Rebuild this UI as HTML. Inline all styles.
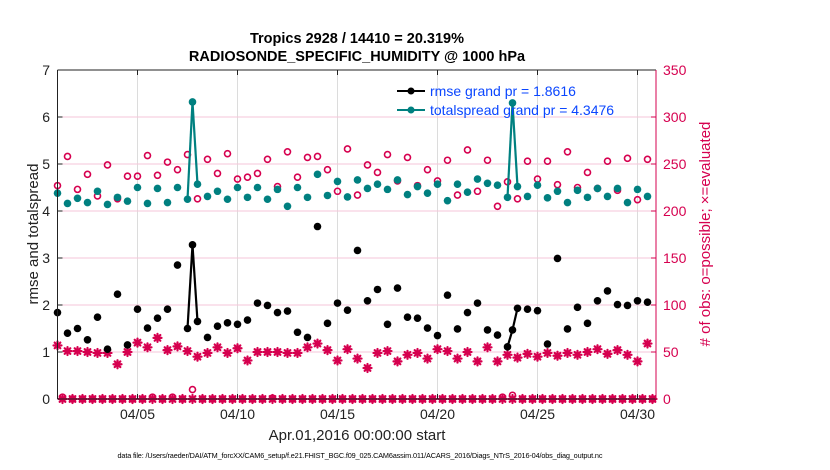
<!DOCTYPE html>
<html><head><meta charset="utf-8"><style>
body{margin:0;background:#fff;}
svg{display:block;font-family:"Liberation Sans",Arial,sans-serif;}
</style></head><body>
<svg id="chart" width="830" height="470" viewBox="0 0 830 470">
  <rect width="830" height="470" fill="#fff"/>
  <g id="grid"></g>
  <g id="marks"></g>
  <g id="axes"></g>
  <text x="357" y="43" text-anchor="middle" font-size="14.5" font-weight="bold">Tropics 2928 / 14410 = 20.319%</text>
  <text x="357" y="61" text-anchor="middle" font-size="14.5" font-weight="bold">RADIOSONDE_SPECIFIC_HUMIDITY @ 1000 hPa</text>
  <text x="357" y="440" text-anchor="middle" font-size="15" fill="#222">Apr.01,2016 00:00:00 start</text>
  <text transform="translate(38,234) rotate(-90)" text-anchor="middle" font-size="15" fill="#222">rmse and totalspread</text>
  <text transform="translate(710,234) rotate(-90)" text-anchor="middle" font-size="15" fill="#d6004f"># of obs: o=possible; ×=evaluated</text>
  <text x="360" y="458" text-anchor="middle" font-size="7.3" fill="#000" textLength="485">data file: /Users/raeder/DAI/ATM_forcXX/CAM6_setup/f.e21.FHIST_BGC.f09_025.CAM6assim.011/ACARS_2016/Diags_NTrS_2016-04/obs_diag_output.nc</text>
  <g>
    <g>
      <line x1="397" y1="91" x2="425" y2="91" stroke="#000" stroke-width="2"/>
      <circle cx="411" cy="91" r="3.5" fill="#000"/>
      <text x="430" y="96" font-size="14" fill="#0a46ff">rmse grand pr = 1.8616</text>
    </g>
    <g>
      <line x1="397" y1="110" x2="425" y2="110" stroke="#008080" stroke-width="2"/>
      <circle cx="411" cy="110" r="3.5" fill="#008080"/>
      <text x="430" y="115" font-size="14" fill="#0a46ff">totalspread grand pr = 4.3476</text>
    </g>
  </g>
</svg>
<script>
const times = [0,0.5,1,1.5,2,2.5,3,3.5,4,4.5,5,5.5,6,6.5,6.75,7,7.5,8,8.5,9,9.5,10,10.5,11,11.5,12,12.5,13,13.5,14,14.5,15,15.5,16,16.5,17,17.5,18,18.5,19,19.5,20,20.5,21,21.5,22,22.5,22.75,23,23.5,24,24.5,25,25.5,26,26.5,27,27.5,28,28.5,29,29.5];
const rmse = [1.84,1.40,1.50,1.26,1.74,1.06,2.23,1.15,1.91,1.51,1.72,1.91,2.85,1.50,3.28,1.65,1.31,1.55,1.62,1.59,1.68,2.04,1.99,1.84,1.87,1.42,1.31,3.67,1.61,2.04,1.89,3.16,2.09,2.33,1.59,2.36,1.74,1.72,1.51,1.35,2.21,1.49,1.84,2.04,1.47,1.36,1.11,1.47,1.93,1.91,1.88,1.17,2.99,1.49,1.95,1.61,2.09,2.30,2.01,1.99,2.09,2.06];
const totalspread = [4.38,4.16,4.27,4.18,4.42,4.14,4.29,4.21,4.50,4.16,4.48,4.18,4.50,4.25,6.32,4.57,4.31,4.42,4.25,4.50,4.29,4.50,4.25,4.46,4.10,4.50,4.29,4.78,4.33,4.63,4.30,4.66,4.48,4.57,4.46,4.66,4.35,4.52,4.38,4.57,4.22,4.57,4.40,4.68,4.59,4.55,4.29,6.30,4.52,4.31,4.55,4.28,4.42,4.18,4.44,4.29,4.48,4.31,4.48,4.18,4.46,4.31];
const nPossible = [227,258,223,239,216,249,213,237,237,259,238,252,244,260,10,213,255,240,261,234,236,240,255,226,263,236,257,258,244,221,266,217,249,241,260,232,257,227,244,232,254,217,265,221,254,205,231,4,213,253,234,253,228,263,225,241,224,253,222,256,212,255];
const nEvaluated = [57,51,51,50,49,49,37,50,60,55,65,52,56,51,0,45,49,55,49,54,41,50,50,50,49,49,55,59,52,41,53,43,33,49,51,40,47,49,43,53,51,43,50,40,55,40,47,0,44,48,45,49,46,49,47,50,53,48,52,47,40,59];
const offTimes = [0.25,0.75,1.25,1.75,2.25,2.75,3.25,3.75,4.25,4.75,5.25,5.75,6.25,7.25,7.75,8.25,8.75,9.25,9.75,10.25,10.75,11.25,11.75,12.25,12.75,13.25,13.75,14.25,14.75,15.25,15.75,16.25,16.75,17.25,17.75,18.25,18.75,19.25,19.75,20.25,20.75,21.25,21.75,22.25,23.25,23.75,24.25,24.75,25.25,25.75,26.25,26.75,27.25,27.75,28.25,28.75,29.25,29.75];
const offPossible = [2,0,0,0,0,0,0,0,0,2,0,2,0,0,0,0,0,0,0,0,1,0,0,0,0,0,0,0,0,0,0,0,0,0,0,0,0,0,0,0,0,0,0,2,0,0,0,0,0,0,0,0,0,0,0,0,0,0];
const offEvaluated = [0,0,0,0,0,0,0,0,0,0,0,0,0,0,0,0,0,0,0,0,0,0,0,0,0,0,0,0,0,0,0,0,0,0,0,0,0,0,0,0,0,0,0,0,0,0,0,0,0,0,0,0,0,0,0,0,0,0];
const xTickDays = [4,9,14,19,24,29];
const xTickLabels = ["04/05","04/10","04/15","04/20","04/25","04/30"];
const yLeftTicks = [0,1,2,3,4,5,6,7];
const yRightTicks = [0,50,100,150,200,250,300,350];

const NS="http://www.w3.org/2000/svg";
const L=57.5,R=656,T=70,B=399;
const xS=t=>L+20*t;
const yL=v=>B-(v/7)*(B-T);
const yR=v=>B-(v/350)*(B-T);
const PINK="#d6004f",TEAL="#008080";
function mk(tag,attrs,parent){const e=document.createElementNS(NS,tag);for(const k in attrs)e.setAttribute(k,attrs[k]);parent.appendChild(e);return e;}
const grid=document.getElementById('grid'),marks=document.getElementById('marks'),axes=document.getElementById('axes');

xTickDays.forEach((d,i)=>{
  const x=xS(d);
  const g=mk('line',{x1:x,y1:T,x2:x,y2:B,stroke:'#dcdcdc','stroke-width':1},grid);
  
  
  mk('line',{x1:x,y1:B,x2:x,y2:B-5,stroke:'#222'},axes);
  mk('line',{x1:x,y1:T,x2:x,y2:T+5,stroke:'#222'},axes);
  const t=mk('text',{x:x,y:419,'text-anchor':'middle','font-size':14,fill:'#222'},axes);
  t.textContent=xTickLabels[i];
  
  
});
yRightTicks.forEach(v=>{
  const y=yR(v);
  if(v>0&&v<350){
    const g=mk('line',{x1:L,y1:y,x2:R,y2:y,stroke:'#f6c6d8','stroke-width':1},grid);
    
    
  }
  mk('line',{x1:R,y1:y,x2:R-5,y2:y,stroke:PINK},axes);
  const t=mk('text',{x:663,y:y+5,'font-size':14,fill:PINK},axes);
  t.textContent=v;
  
  
});
yLeftTicks.forEach(v=>{
  const y=yL(v);
  mk('line',{x1:L,y1:y,x2:L+5,y2:y,stroke:'#222'},axes);
  const t=mk('text',{x:50,y:y+5,'text-anchor':'end','font-size':14,fill:'#222'},axes);
  t.textContent=v;
  
  
});
mk('line',{x1:L,y1:T,x2:L,y2:B,stroke:'#222'},axes);
mk('line',{x1:L,y1:B,x2:R,y2:B,stroke:'#222'},axes);
mk('line',{x1:L,y1:T,x2:R,y2:T,stroke:'#222'},axes);
mk('line',{x1:R,y1:T,x2:R,y2:B,stroke:PINK},axes);

function star(x,y,name){
  const g=mk('g',{stroke:PINK,'stroke-width':2.2,'stroke-linecap':'round'},marks);
  
  
  const r=4;
  for(let a=0;a<4;a++){const an=a*Math.PI/4;mk('line',{x1:x-r*Math.cos(an),y1:y-r*Math.sin(an),x2:x+r*Math.cos(an),y2:y+r*Math.sin(an)},g);}
}
function ring(x,y,name){
  const c=mk('circle',{cx:x,cy:y,r:3,fill:'none',stroke:PINK,'stroke-width':1.6},marks);
  
  
}
function series(vals,color,name){
  for(let i=1;i<times.length;i++){
    if(times[i]-times[i-1]<0.4){
      const l=mk('line',{x1:xS(times[i-1]),y1:yL(vals[i-1]),x2:xS(times[i]),y2:yL(vals[i]),stroke:color,'stroke-width':2.2},marks);
      
      
    }
  }
  vals.forEach((v,i)=>{
    const c=mk('circle',{cx:xS(times[i]),cy:yL(v),r:3.8,fill:color},marks);
    
    
  });
}
offTimes.forEach((t,i)=>{ring(xS(t),yR(offPossible[i]),'possible-obs-point');});
offTimes.forEach((t,i)=>{star(xS(t),yR(offEvaluated[i]),'evaluated-obs-point');});
times.forEach((t,i)=>{ring(xS(t),yR(nPossible[i]),'possible-obs-point');});
times.forEach((t,i)=>{star(xS(t),yR(nEvaluated[i]),'evaluated-obs-point');});
series(totalspread,TEAL,'totalspread');
series(rmse,'#000','rmse');
</script>
</body></html>
